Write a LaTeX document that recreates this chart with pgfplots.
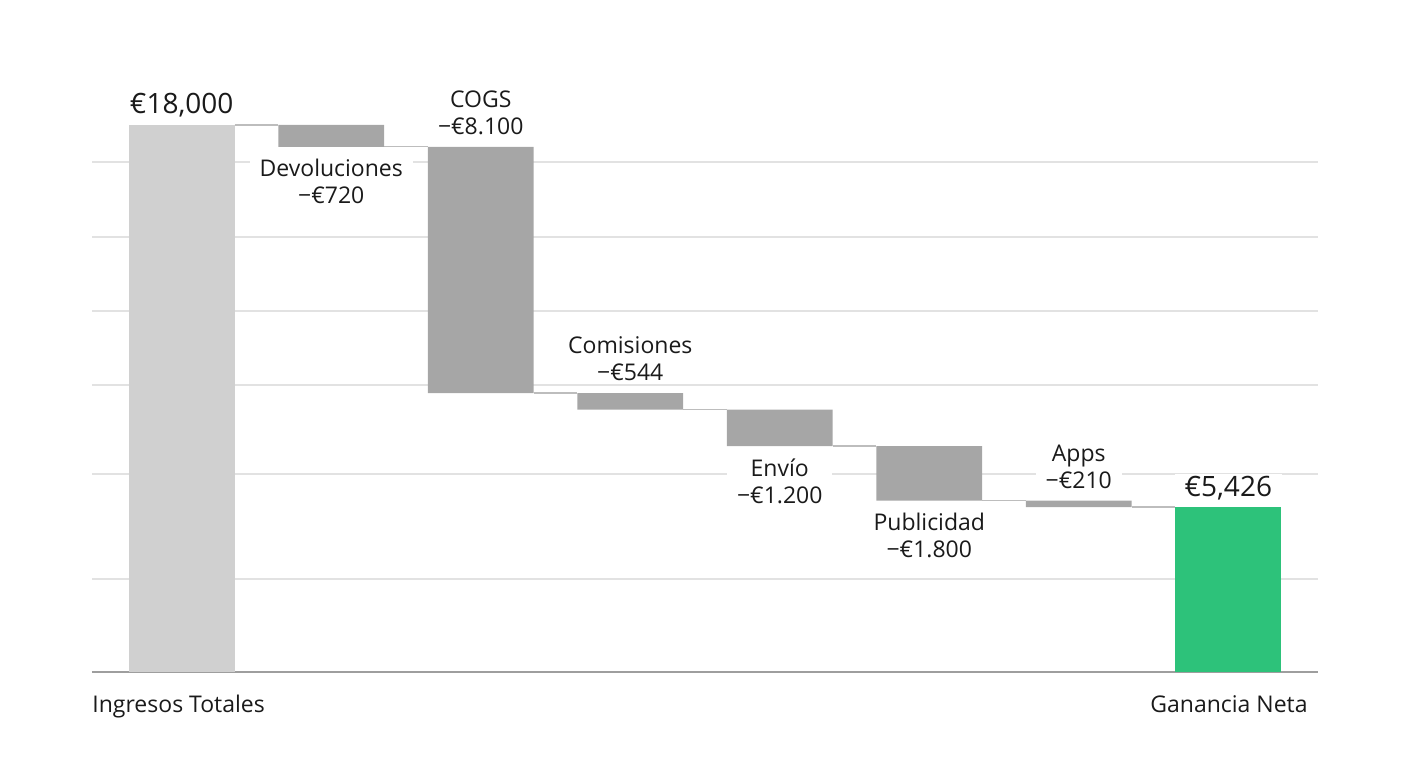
\documentclass[border=0pt]{standalone}
\usepackage{pgfplots}
\pgfplotsset{compat=1.18}
\usepackage{pgfplotstable}
\usepackage{fontspec}
\setmainfont{Open Sans}

\definecolor{totgray}{HTML}{D0D0D0}
\definecolor{decgray}{HTML}{A6A6A6}
\definecolor{netgreen}{HTML}{2DC27A}
\definecolor{gridgray}{HTML}{E2E2E2}
\definecolor{conngray}{HTML}{BDBDBD}
\definecolor{axgray}{HTML}{9E9E9E}
\definecolor{txt}{HTML}{1A1A1A}

% waterfall: invisible base + visible step
\pgfplotstableread{
x base  dec  tot   net
0 0     0    18000 0
1 17280 720  0     0
2 9180  8100 0     0
3 8636  544  0     0
4 7436  1200 0     0
5 5636  1800 0     0
6 5426  210  0     0
7 0     0    0     5426
}\wf

\begin{document}
\begin{tikzpicture}[
  lbl/.style={font=\fontsize{11.5}{13.5}\selectfont, text=txt, align=center,
              fill=white, inner xsep=5pt, inner ysep=1pt},
  up/.style={lbl, anchor=south, yshift=5pt},
  down/.style={lbl, anchor=north, yshift=-5pt},
  big/.style={font=\fontsize{14}{16}\selectfont, text=txt, anchor=base,
              fill=white, inner xsep=5pt, inner ysep=1pt, yshift=5.5pt},
]
\begin{axis}[
  scale only axis, width=613pt, height=303.9pt,
  xmin=-0.6, xmax=7.6, ymin=0, ymax=20000,
  ybar stacked, bar width=0.708,
  axis x line*=bottom, axis y line*=left,
  x axis line style={axgray, line width=1.2pt},
  y axis line style={draw=none},
  xtick=\empty,
  ytick={3060,6516,9444,11879,14314,16783}, yticklabels={},
  scaled y ticks=false,
  major tick length=0pt,
  ymajorgrids, major grid style={gridgray, line width=0.6pt},
  clip=false,
]
\addplot[draw=none, fill=none] table[x=x, y=base] {\wf};
\addplot[draw=none, fill=decgray] table[x=x, y=dec] {\wf};
\addplot[draw=none, fill=totgray] table[x=x, y=tot] {\wf};
\addplot[draw=none, fill=netgreen] table[x=x, y=net] {\wf};

\addplot[sharp plot, stack plots=false, draw=conngray, fill=none, mark=none,
         line width=0.6pt, unbounded coords=jump, forget plot] coordinates {
  (0.354,18000) (0.646,18000) (1,nan)
  (1.354,17280) (1.646,17280) (2,nan)
  (2.354,9180)  (2.646,9180)  (3,nan)
  (3.354,8636)  (3.646,8636)  (4,nan)
  (4.354,7436)  (4.646,7436)  (5,nan)
  (5.354,5636)  (5.646,5636)  (6,nan)
  (6.354,5426)  (6.646,5426)
};

\node[big] at (axis cs:0,18000) {€18,000};
\node[down] at (axis cs:1,17280) {Devoluciones\\−€720};
\node[up] at (axis cs:2,17280) {COGS\\−€8.100};
\node[up] at (axis cs:3,9180) {Comisiones\\−€544};
\node[down] at (axis cs:4,7436) {Envío\\−€1.200};
\node[down] at (axis cs:5,5636) {Publicidad\\−€1.800};
\node[up] at (axis cs:6,5636) {Apps\\−€210};
\node[big] at (axis cs:7,5426) {€5,426};

\node[lbl, fill=none, anchor=base west, inner xsep=0pt] at ([yshift=-20.5pt]rel axis cs:0,0) {Ingresos Totales};
\node[lbl, fill=none, anchor=base east, inner xsep=0pt] at ([xshift=-5pt,yshift=-20.5pt]rel axis cs:1,0) {Ganancia Neta};
\end{axis}
\pgfresetboundingbox
\path ([xshift=-46pt,yshift=-48pt]current axis.south west) rectangle ([xshift=45pt,yshift=32.1pt]current axis.north east);
\end{tikzpicture}
\end{document}
